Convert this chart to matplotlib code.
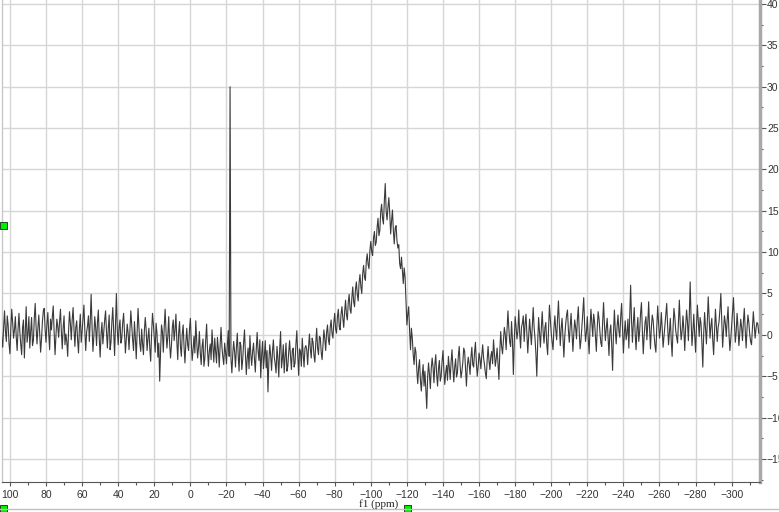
import numpy as np
import matplotlib
matplotlib.use("Agg")
import matplotlib.pyplot as plt
from matplotlib.patches import Rectangle
from matplotlib.ticker import MultipleLocator

plt.rcParams["font.family"] = "Liberation Sans"

# chemical shift axis of the spectrum (ppm), one point per ppm
ppm_start = 105
ppm_end = -315
ppm = np.arange(ppm_start, ppm_end - 1, -1)

# intensity at whole ppm, rows of 10 ppm (105..96, 95..86, ...)
intensity = [
    1.8, -1.5, 2.9, -0.8, 1.2, -2.3, 3.1, -0.4, 2.2, -1.9,
    2.6, -1.2, 0.9, -2.8, 3.4, 0.2, -1.6, 2.1, -0.7, 3.8,
    -1.1, 2.4, -2.1, 1.6, 3.2, -0.9, 2.7, -1.8, 0.6, 3.5,
    -2.4, 1.9, -0.3, 3.1, -1.7, 2.3, 0.1, -2.6, 2.8, -0.6,
    3.3, -1.4, 1.7, -2.2, 2.5, 0.4, 3.6, -1.9, 1.1, -0.8,
    4.9, -2.0, 2.2, -1.3, 3.0, -2.7, 1.5, 0.3, 2.9, -1.6,
    2.4, -0.9, 3.3, -2.5, 5.0, -1.2, 1.8, -0.4, 2.6, -2.2,
    1.3, -1.8, 2.9, -0.6, 1.6, -2.9, 3.2, -1.1, 0.7, -2.4,
    2.1, -1.9, 0.8, -3.2, 2.6, -0.5, 1.4, -2.7, -5.6, 1.2,
    -2.1, 3.1, -1.6, 2.2, -2.8, 0.9, -0.7, 2.5, -3.0, 1.6,
    -2.6, 1.2, -3.4, 0.8, -1.9, 2.0, -3.1, -0.2, 1.7, -2.8,
    0.4, -3.6, -0.5, -2.9, 1.3, -3.8, -1.1, 0.6, -3.3, -2.0,
    -0.3, -3.9, 0.9, -2.7, -1.0, -3.5, 0.5, 30.0, -4.6, -0.8,
    -3.9, 0.2, -4.4, -1.3, -3.0, 0.6, -4.8, -1.6, -0.1, -3.7,
    -1.0, -4.5, 0.3, -3.1, -5.2, -0.8, -2.6, -4.0, -6.9, -1.2,
    -4.3, -0.6, -3.5, -1.4, -5.1, 0.4, -2.9, -4.6, -1.0, -3.8,
    -0.7, -4.2, -1.6, -3.4, 0.5, -4.9, -2.0, -0.4, -3.9, -1.3,
    -3.6, 0.1, -2.8, -0.9, -3.3, 0.8, -2.4, -0.3, -3.0, 0.6,
    -1.9, 1.2, -1.2, 1.8, -0.4, 2.6, 0.2, 3.1, 0.6, 3.4,
    0.9, 4.2, 1.8, 4.9, 2.6, 5.8, 3.4, 6.4, 4.1, 7.3,
    5.0, 8.4, 6.6, 9.8, 8.0, 11.3, 9.6, 12.5, 11.2, 14.1,
    12.6, 15.8, 13.4, 18.3, 13.9, 16.6, 12.2, 15.1, 11.0, 13.2,
    10.5, 8.6, 9.4, 6.2, 7.0, 1.2, 3.4, -1.8, -0.4, -3.6,
    -2.1, -5.9, -3.0, -6.8, -3.6, -4.4, -8.9, -3.4, -6.5, -2.8,
    -5.8, -2.4, -6.2, -3.1, -5.0, -1.9, -6.0, -3.7, -2.6, -5.4,
    -1.8, -5.7, -2.9, -4.6, -1.4, -5.2, -3.3, -2.0, -6.2, -2.7,
    -4.8, -1.5, -3.9, -0.9, -5.0, -2.2, -4.1, -1.2, -3.6, -5.3,
    -1.4, -4.2, -2.0, -0.6, -3.8, -1.6, -5.4, 0.4, -2.3, 0.9,
    -1.8, 2.9, -0.9, 1.6, -4.8, 2.2, -0.5, 3.0, -1.6, 1.4,
    -0.8, 2.5, -2.2, 1.9, -1.2, 3.3, -0.4, -5.0, 2.1, -1.5,
    2.8, -1.0, 1.5, -2.4, 3.6, 0.2, -1.8, 2.3, -0.6, 4.1,
    -1.3, 2.0, -2.7, 1.3, 3.0, -0.9, 2.6, -2.0, 1.8, -0.5,
    3.4, -1.7, 1.0, 4.5, -0.8, 2.2, -2.3, 3.1, -0.2, 1.6,
    -2.0, 2.8, 0.3, -1.4, 3.9, -0.7, 2.0, -2.5, 1.2, -4.3,
    3.0, -1.1, 2.4, -0.3, 3.8, -2.2, 1.7, 0.2, -1.6, 6.0,
    -0.9, 3.3, -1.8, 2.1, 0.4, 3.9, -2.3, 1.5, -0.6, 4.0,
    -1.7, 2.4, 0.0, -2.1, 3.5, -0.4, 2.7, -1.5, 1.1, 3.8,
    -1.2, 2.0, -2.6, 3.2, 0.5, -1.0, 4.2, -0.6, 2.3, -1.9,
    3.0, -0.7, 6.4, -1.3, 2.5, -2.1, 3.6, -0.2, 1.4, -3.9,
    2.7, -1.1, 4.6, -0.4, 2.0, -2.4, 3.1, -0.8, 1.6, 5.0,
    -1.5, 2.3, -0.2, 3.4, -1.9, 1.2, 4.5, -0.9, 2.6, -1.3,
    1.9, -0.7, 3.2, -1.6, 2.4, 0.1, -1.2, 2.8, -0.4, 1.5,
    0.2,
]

# intensity at the half-ppm points in between (104.5, 103.5, ...)
intensity_half = [
    -0.6, 0.9, 0.4, 2.3, -1.1, 0.8, 1.5, 0.6, -0.3, 0.7,
    0.3, -2.4, 1.8, 0.5, -0.9, 2.2, 0.4, -1.3, 2.0, 0.9,
    0.8, 0.2, -0.5, 2.9, 0.6, 1.3, 0.1, 1.9, 2.2, 0.3,
    -0.1, 1.0, 1.6, 0.4, 0.9, -1.2, -0.8, 0.5, 1.4, 1.8,
    0.7, 0.9, -0.6, 0.8, -0.9, 2.0, 0.6, 0.3, 2.3, 1.6,
    1.1, -0.2, 0.9, 1.5, -0.4, 0.1, -1.1, 1.8, 0.4, 0.8,
    -1.8, 1.6, 0.4, 1.2, 0.6, 0.9, -1.0, 1.5, 0.1, -0.4,
    0.2, 0.6, 1.1, -1.9, -0.3, 0.4, 0.9, -2.0, -1.1, 0.5,
    0.6, -0.4, -1.6, 0.1, 1.3, -2.1, 0.2, -1.0, -1.9, 0.4,
    0.9, 0.4, -0.2, -1.0, -1.3, 1.8, 0.6, -0.8, 0.2, -1.4,
    0.1, -1.5, -0.9, -1.2, 0.6, -0.9, -1.8, -2.2, -0.7, -1.6,
    -2.2, -1.4, -3.8, -0.6, -1.8, -2.0, -3.0, -1.5, -0.4, -3.4,
    -1.7, -1.2, -1.5, -3.6, -2.1, -1.2, -2.6, -2.9, -2.3, -2.0,
    -1.6, -2.5, -0.9, -4.2, -1.0, -2.3, -2.8, -4.1, -2.4, -2.0,
    -2.9, -1.8, -1.9, -0.6, -2.4, -4.1, -0.7, -1.9, -3.2, -2.5,
    -2.0, -2.7, -4.6, -2.8, -1.7, -4.0, -1.2, -2.6, -4.4, -2.1,
    -2.6, -1.9, -3.9, -1.1, -2.4, -1.7, -3.8, -2.3, -1.6, -1.8,
    -1.5, -1.8, -0.4, -2.5, -1.0, -1.6, -0.2, -2.1, -1.2, -0.5,
    0.3, -0.6, 0.9, 0.2, 1.5, 0.7, 2.2, 1.0, 2.5, 2.0,
    2.8, 2.4, 3.9, 3.1, 4.5, 4.0, 5.5, 4.9, 6.3, 5.8,
    7.4, 7.0, 8.9, 8.5, 10.2, 10.0, 11.7, 10.8, 13.0, 12.0,
    14.9, 14.1, 16.2, 15.0, 15.4, 14.7, 13.8, 12.6, 12.9, 11.4,
    10.9, 8.0, 7.7, 8.1, 4.0, 2.5, 0.5, 0.8, -2.4, -1.5,
    -4.2, -4.0, -5.5, -4.9, -6.2, -6.6, -5.1, -4.8, -4.1, -3.9,
    -3.6, -4.8, -4.1, -5.6, -3.2, -4.3, -4.6, -5.5, -3.9, -3.3,
    -4.0, -3.9, -5.1, -2.6, -3.7, -4.4, -1.6, -4.1, -3.8, -3.5,
    -2.7, -3.6, -2.1, -3.4, -3.8, -2.9, -2.5, -2.8, -4.6, -3.0,
    -3.1, -2.6, -3.5, -2.2, -2.9, -3.4, -2.0, -1.4, -0.7, 0.1,
    0.6, 0.8, -1.4, -0.6, -0.9, 1.0, 0.4, 0.2, 0.9, 2.3,
    1.3, 0.1, -0.1, 0.4, 1.1, 0.9, -2.3, -0.9, 0.3, 0.8,
    0.4, 0.9, -1.1, 0.7, 1.8, -0.9, 0.8, 0.6, 2.0, 1.2,
    0.8, -0.4, -0.2, 2.4, 0.6, 1.0, 0.3, 0.1, 0.9, 1.9,
    0.5, -0.6, 2.8, 1.2, 0.3, -0.4, 0.9, 1.4, 2.5, -0.1,
    0.9, 1.9, -1.0, 1.6, 1.2, 0.8, -0.3, 0.4, -1.2, 0.2,
    0.6, 1.0, 0.5, 2.2, 0.7, 0.1, -0.6, 1.9, 2.4, 1.7,
    1.4, 0.2, 0.6, -0.8, 2.6, 0.5, -0.1, 2.2, 1.3, 0.8,
    0.9, 1.7, -1.3, 1.0, 1.4, 0.6, 0.8, -0.2, 2.4, 1.1,
    0.3, -0.7, 0.8, 2.1, -0.3, 1.6, 1.2, 0.4, 0.6, 1.0,
    1.6, 2.2, 1.9, 0.4, 0.0, 1.1, 1.7, 2.1, -1.0, 0.2,
    0.8, 1.5, 2.0, 1.1, -0.6, 0.5, 1.2, 0.9, 3.1, 1.8,
    0.6, 1.4, 1.8, 0.2, -0.5, 2.7, 1.6, 0.3, 0.9, 0.2,
    0.9, 1.6, 0.6, 0.7, 1.5, -0.8, 0.9, 1.1, 0.8, 1.3,
]

x_ticks = list(range(100, -301, -20))
y_ticks = list(range(-15, 41, 5))

# merge whole and half ppm points into one trace
n = len(intensity) + len(intensity_half)
x_all = np.empty(n)
y_all = np.empty(n)
x_all[0::2] = ppm
x_all[1::2] = ppm[:-1] - 0.5
y_all[0::2] = intensity
y_all[1::2] = intensity_half

fig = plt.figure(figsize=(7.79, 5.12), dpi=100)
ax = fig.add_axes([2 / 779, 30 / 512, 758 / 779, 482 / 512])

ax.plot(x_all, y_all, color="#3a3a3a", lw=0.8, zorder=3)

ax.set_xlim(104.4, -315.7)
ax.set_ylim(-17.8, 40.5)

ax.set_xticks(x_ticks)
ax.xaxis.set_minor_locator(MultipleLocator(10))
ax.set_yticks(y_ticks)
ax.yaxis.set_minor_locator(MultipleLocator(2.5))
ax.yaxis.tick_right()

ax.grid(True, which="major", color="#d6d6d6", lw=1.0, zorder=0)

ax.spines["top"].set_visible(False)
ax.spines["left"].set_color("#c8c8c8")
ax.spines["left"].set_linewidth(1.0)
ax.spines["right"].set_color("#a8a8a8")
ax.spines["right"].set_linewidth(2.5)
ax.spines["bottom"].set_color("#555555")
ax.spines["bottom"].set_linewidth(0.8)

ax.tick_params(axis="x", which="major", length=3, width=0.8, color="#555555",
               labelsize=7.5, labelcolor="#333333", pad=3)
ax.tick_params(axis="x", which="minor", length=2, width=0.8, color="#555555")
ax.tick_params(axis="y", which="major", length=4, width=0.8, color="#555555",
               labelsize=7.5, labelcolor="#333333", pad=1, right=True, left=False)
ax.tick_params(axis="y", which="minor", length=2, width=0.8, color="#555555",
               right=True, left=False)

fig.text(379 / 779, 1 - 504 / 512, "f1 (ppm)", ha="center", va="center",
         fontsize=8, family="Liberation Serif", color="#222222")

# bottom frame line of the window
fig.add_artist(plt.Line2D([0, 1], [1 - 508.5 / 512] * 2, color="#c0c0c0", lw=1.0))

# green handle squares
for (hx, hy) in [(0, 222), (0, 505), (404, 505)]:
    fig.add_artist(Rectangle((hx / 779, 1 - (hy + 7) / 512), 7 / 779, 7 / 512,
                             facecolor="#00ee00", edgecolor="#1a4a1a", lw=0.7))

fig.savefig("out.png", dpi=100)
